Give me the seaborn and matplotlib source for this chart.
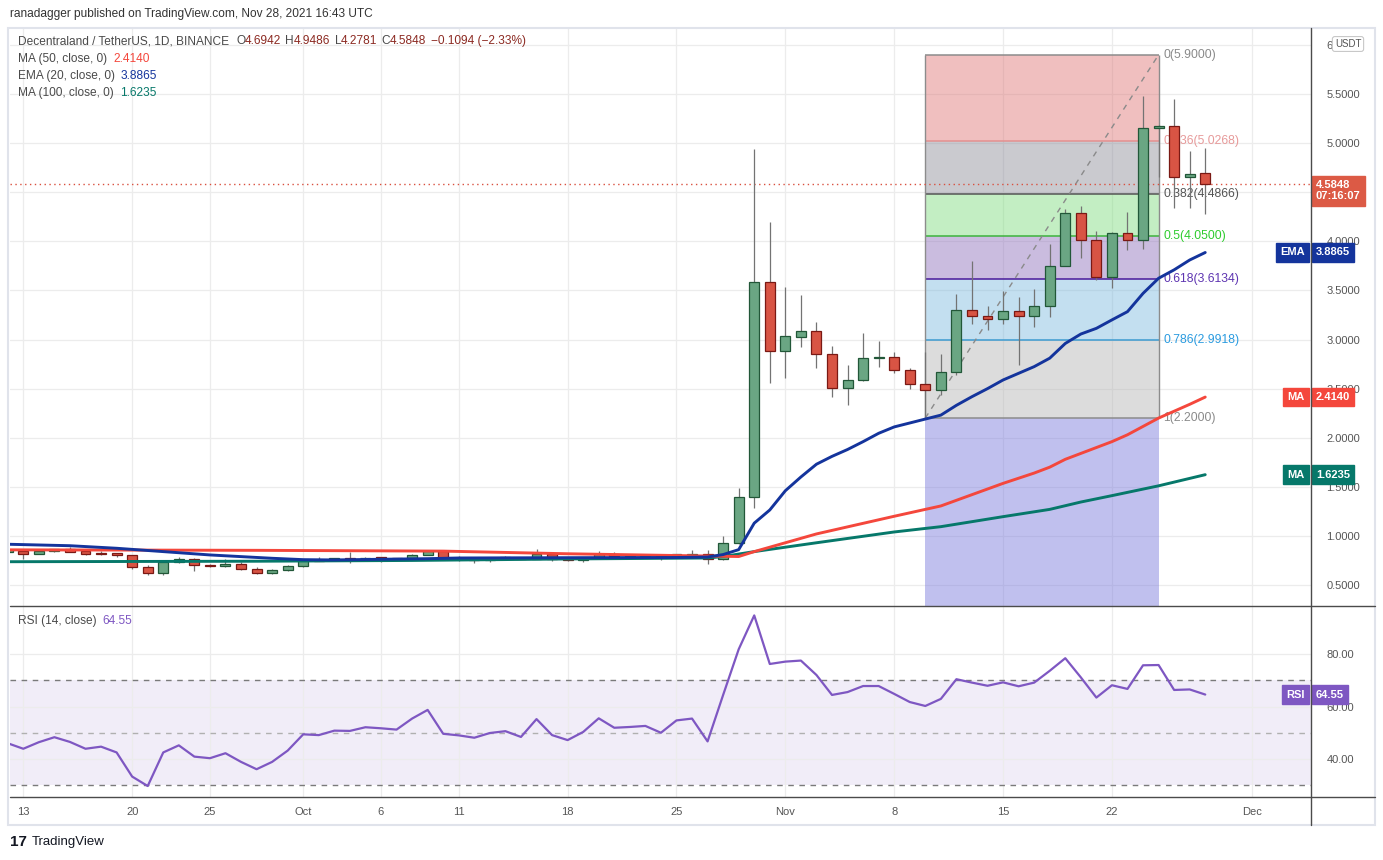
import matplotlib
matplotlib.use("Agg")
import matplotlib.pyplot as plt
import seaborn as sns
from matplotlib import transforms
from matplotlib.patches import Rectangle
from matplotlib.lines import Line2D

# ---------------- data (day 0 = Sep 13) ----------------
days = list(range(-1, 77))
opens = [0.835, 0.846, 0.820, 0.843, 0.867, 0.846, 0.823, 0.826, 0.802, 0.680,
         0.619, 0.730, 0.760, 0.700, 0.690, 0.710, 0.660, 0.620, 0.650, 0.690,
         0.750, 0.750, 0.772, 0.770, 0.782, 0.770, 0.770, 0.810, 0.843, 0.775,
         0.762, 0.751, 0.772, 0.775, 0.765, 0.820, 0.765, 0.752, 0.772, 0.816,
         0.787, 0.787, 0.795, 0.785, 0.808, 0.816, 0.762, 0.925, 1.393, 3.583,
         2.884, 3.023, 3.084, 2.850, 2.503, 2.585, 2.810, 2.820, 2.687, 2.544,
         2.483, 2.667, 3.300, 3.240, 3.210, 3.290, 3.240, 3.340, 3.745, 4.286,
         4.010, 3.640, 4.080, 4.010, 5.150, 5.178, 4.653, 4.6942]
highs = [0.860, 0.853, 0.867, 0.870, 0.887, 0.860, 0.846, 0.830, 0.810, 0.700,
         0.745, 0.785, 0.775, 0.715, 0.762, 0.730, 0.680, 0.660, 0.700, 0.760,
         0.785, 0.775, 0.836, 0.785, 0.790, 0.775, 0.815, 0.850, 0.850, 0.800,
         0.768, 0.790, 0.800, 0.785, 0.870, 0.830, 0.775, 0.775, 0.846, 0.836,
         0.816, 0.800, 0.800, 0.820, 0.857, 0.857, 1.000, 1.485, 4.940, 4.197,
         3.535, 3.454, 3.176, 2.934, 2.740, 3.067, 2.985, 2.873, 2.707, 2.873,
         2.853, 3.460, 3.800, 3.340, 3.490, 3.430, 3.515, 3.973, 4.333, 4.360,
         4.105, 4.100, 4.300, 5.480, 5.190, 5.450, 4.920, 4.9486]
lows = [0.830, 0.768, 0.815, 0.840, 0.835, 0.810, 0.805, 0.790, 0.667, 0.605,
        0.605, 0.720, 0.645, 0.680, 0.680, 0.650, 0.613, 0.615, 0.645, 0.685,
        0.740, 0.745, 0.727, 0.745, 0.730, 0.760, 0.765, 0.805, 0.765, 0.747,
        0.721, 0.734, 0.765, 0.760, 0.760, 0.748, 0.745, 0.734, 0.770, 0.795,
        0.780, 0.780, 0.758, 0.780, 0.800, 0.717, 0.750, 0.920, 1.287, 2.560,
        2.610, 2.920, 2.710, 2.410, 2.333, 2.580, 2.720, 2.662, 2.500, 2.200,
        2.430, 2.640, 3.155, 3.100, 3.155, 2.740, 3.125, 3.227, 3.745, 3.834,
        3.610, 3.520, 3.915, 3.925, 4.660, 4.343, 4.343, 4.2781]
closes = [0.855, 0.818, 0.845, 0.867, 0.840, 0.813, 0.816, 0.802, 0.680, 0.619,
          0.730, 0.760, 0.700, 0.690, 0.710, 0.660, 0.620, 0.650, 0.690, 0.750,
          0.744, 0.770, 0.766, 0.778, 0.768, 0.766, 0.810, 0.843, 0.770, 0.762,
          0.751, 0.772, 0.782, 0.762, 0.820, 0.765, 0.752, 0.775, 0.816, 0.792,
          0.795, 0.795, 0.785, 0.816, 0.816, 0.762, 0.925, 1.393, 3.583, 2.884,
          3.033, 3.084, 2.850, 2.503, 2.585, 2.810, 2.822, 2.687, 2.544, 2.483,
          2.667, 3.300, 3.240, 3.210, 3.290, 3.240, 3.340, 3.745, 4.286, 4.010,
          3.640, 4.080, 4.010, 5.150, 5.178, 4.653, 4.683, 4.5848]

ema20_days = [-1, 3, 6, 9, 12, 16, 18, 20, 23, 26, 28, 35, 42, 44, 45, 46, 47, 48,
              49, 50, 51, 52, 53, 54, 55, 56, 57, 58, 59, 60, 61, 62, 63, 64, 65,
              66, 67, 68, 69, 70, 71, 72, 73, 74, 75, 76]
ema20_vals = [0.915, 0.900, 0.874, 0.840, 0.806, 0.772, 0.758, 0.755, 0.762, 0.768,
              0.775, 0.778, 0.780, 0.785, 0.810, 0.860, 1.130, 1.264, 1.460, 1.600,
              1.730, 1.810, 1.880, 1.960, 2.045, 2.110, 2.150, 2.190, 2.230, 2.330,
              2.418, 2.500, 2.588, 2.656, 2.724, 2.810, 2.960, 3.056, 3.114, 3.200,
              3.284, 3.470, 3.624, 3.710, 3.810, 3.8865]
ma50_days = [-1, 15, 27, 35, 42, 46, 47, 51, 56, 59, 63, 65, 66, 67, 68, 69, 70,
             71, 72, 73, 74, 75, 76]
ma50_vals = [0.858, 0.853, 0.845, 0.818, 0.800, 0.790, 0.840, 1.020, 1.200, 1.305,
             1.535, 1.640, 1.700, 1.780, 1.840, 1.900, 1.960, 2.030, 2.115, 2.200,
             2.270, 2.340, 2.414]
ma100_days = [-1, 15, 25, 35, 44, 45, 46, 47, 51, 56, 59, 63, 66, 68, 70, 73, 76]
ma100_vals = [0.737, 0.742, 0.750, 0.765, 0.775, 0.790, 0.815, 0.840, 0.930, 1.040,
              1.094, 1.196, 1.270, 1.345, 1.410, 1.510, 1.6235]

rsi_vals = [46.0, 43.9, 46.4, 48.3, 46.5, 43.9, 44.7, 42.5, 33.3, 29.7,
            42.5, 45.2, 40.9, 40.3, 42.2, 38.9, 36.1, 38.9, 43.2, 49.4,
            49.1, 50.8, 50.7, 52.1, 51.7, 51.2, 55.4, 58.7, 49.6, 49.0,
            48.1, 49.9, 50.6, 48.4, 55.2, 49.1, 47.2, 50.3, 55.5, 51.9,
            52.2, 52.6, 50.0, 54.7, 55.4, 46.7, 64.4, 81.8, 94.7, 76.2,
            77.1, 77.5, 72.0, 64.4, 65.5, 67.8, 67.8, 64.8, 61.7, 60.2,
            62.9, 70.4, 69.1, 67.9, 69.2, 67.7, 69.1, 73.6, 78.4, 71.1,
            63.4, 68.1, 66.7, 75.7, 75.8, 66.3, 66.5, 64.55]

fib_ratios = ["0", "0.236", "0.382", "0.5", "0.618", "0.786", "1"]
fib_levels = [5.9, 5.0268, 4.4866, 4.05, 3.6134, 2.9918, 2.2]
fib_start, fib_end = 58, 73

tick_days = [0, 7, 12, 18, 23, 28, 35, 42, 49, 56, 63, 70, 79]
tick_labels = ["13", "20", "25", "Oct", "6", "11", "18", "25", "Nov", "8", "15", "22", "Dec"]
price_ticks = [0.5, 1.0, 1.5, 2.0, 2.5, 3.0, 3.5, 4.0, 4.5, 5.0, 5.5, 6.0]
rsi_ticks = [40, 60, 80]

# ---------------- style ----------------
sns.set_theme(style="white")
plt.rcParams["font.family"] = ["Liberation Sans", "DejaVu Sans"]

W, H = 1383, 860
fig = plt.figure(figsize=(W / 100, H / 100), dpi=100)


def fx(px):
    return px / W


def fy(py):
    return 1 - py / H


GRID = "#ececec"
TXT = "#4a4a4a"
GREEN_F, GREEN_E = "#6aa683", "#225738"
RED_F, RED_E = "#d85444", "#7a1914"
EMA_C, MA50_C, MA100_C, RSI_C = "#14349c", "#f4473c", "#06786a", "#7e57c2"

ax = fig.add_axes([fx(10), fy(606), fx(1311) - fx(10), fy(28) - fy(606)])
rx = fig.add_axes([fx(10), fy(797), fx(1311) - fx(10), fy(606) - fy(797)], sharex=ax)

for a in (ax, rx):
    a.set_facecolor("white")
    for s in a.spines.values():
        s.set_visible(False)
    a.set_axisbelow(True)
    a.grid(True, color=GRID, lw=0.9)
    a.yaxis.tick_right()
    a.tick_params(axis="both", length=0, labelsize=8, labelcolor="#555555")
    a.tick_params(axis="y", pad=11)

ax.set_xlim(-0.855, 82.8)
ax.set_ylim(0.286, 6.173)
rx.set_ylim(25.52, 98.29)

ax.set_xticks(tick_days)
rx.set_xticks(tick_days)
rx.set_xticklabels(tick_labels)
ax.tick_params(axis="x", labelbottom=False)
rx.tick_params(axis="x", pad=7)
ax.set_yticks(price_ticks)
# 4.5000 sits fully under the last-price tag in the original, so it is left blank
ax.set_yticklabels(["6" if v == 6.0 else ("" if v == 4.5 else f"{v:.4f}")
                    for v in price_ticks], ha="left")
rx.set_yticks(rsi_ticks)
rx.set_yticklabels([f"{v:.2f}" for v in rsi_ticks], ha="left")

# ---------------- fib retracement ----------------
band_cols = ["#de7373", "#8a8a96", "#7adb7a", "#8b6cba", "#7ab8de", "#b3b3b3"]
line_cols = ["#8c8c8c", "#e39090", "#555555", "#3cb43c", "#4a1a9a", "#3d9bd0", "#8c8c8c"]
label_cols = ["#8a8a8a", "#e79a9a", "#555555", "#2ecc2e", "#5e35b1", "#2a9be0", "#8a8a8a"]
fx_span = [fib_start, fib_end]
for i in range(len(band_cols)):
    ax.fill_between(fx_span, fib_levels[i + 1], fib_levels[i], color=band_cols[i],
                    alpha=0.45, lw=0, zorder=1)
ax.fill_between(fx_span, ax.get_ylim()[0], fib_levels[-1], color="#7575db",
                alpha=0.45, lw=0, zorder=1)
for lvl, lc, r, tc in zip(fib_levels, line_cols, fib_ratios, label_cols):
    ax.hlines(lvl, fib_start, fib_end, color=lc, lw=1.1, zorder=1.5)
    ax.text(fib_end + 0.3, lvl, f"{r}({lvl:.4f})", color=tc, fontsize=8.8,
            va="center", ha="left", zorder=1.6)
ax.vlines([fib_start, fib_end], fib_levels[-1], fib_levels[0], color="#8c8c8c",
          lw=1, zorder=1.5)
ax.plot([fib_start, fib_end], [fib_levels[-1], fib_levels[0]], color="#8a8a8a",
        lw=1, ls=(0, (4, 4)), zorder=1.7)

# ---------------- candles ----------------
ax.vlines(days, lows, highs, color="#737373", lw=0.9, zorder=3)
up = [c >= o for o, c in zip(opens, closes)]
ax.bar(days, [c - o for o, c in zip(opens, closes)], bottom=opens, width=0.64,
       color=[GREEN_F if u else RED_F for u in up],
       edgecolor=[GREEN_E if u else RED_E for u in up], linewidth=0.9, zorder=4)

# ---------------- moving averages ----------------
sns.lineplot(x=ma100_days, y=ma100_vals, ax=ax, color=MA100_C, lw=2.1, zorder=5)
sns.lineplot(x=ma50_days, y=ma50_vals, ax=ax, color=MA50_C, lw=2.1, zorder=5)
sns.lineplot(x=ema20_days, y=ema20_vals, ax=ax, color=EMA_C, lw=2.1, zorder=5)
ax.axhline(closes[-1], color="#d9503f", lw=1, ls=(0, (1, 2.5)), zorder=2)
ax.set_xlabel("")
ax.set_ylabel("")

# ---------------- RSI ----------------
rx.axhspan(30, 70, color=RSI_C, alpha=0.1, lw=0, zorder=0.2)
for lvl, c in ((30, "#7a7a7a"), (50, "#b0b0b0"), (70, "#7a7a7a")):
    rx.axhline(lvl, color=c, lw=1, ls=(0, (4, 4)), zorder=1)
sns.lineplot(x=days, y=rsi_vals, ax=rx, color=RSI_C, lw=1.6, zorder=5)
rx.set_xlabel("")
rx.set_ylabel("")

# ---------------- right-side tags ----------------
bt = transforms.blended_transform_factory(ax.transAxes, ax.transData)
br = transforms.blended_transform_factory(rx.transAxes, rx.transData)


def tag(a, tr, y, value, bg, name=None, dy=0):
    a.annotate(value, xy=(1.0, y), xycoords=tr, xytext=(3.5, dy), textcoords="offset points",
               ha="left", va="center", color="white", fontsize=8, fontweight="bold",
               annotation_clip=False, zorder=10, linespacing=1.15,
               bbox=dict(boxstyle="square,pad=0.38", fc=bg, ec=bg))
    if name:
        a.annotate(name, xy=(1.0, y), xycoords=tr, xytext=(-4.5, dy), textcoords="offset points",
                   ha="right", va="center", color="white", fontsize=8, fontweight="bold",
                   annotation_clip=False, zorder=10,
                   bbox=dict(boxstyle="square,pad=0.38", fc=bg, ec=bg))


tag(ax, bt, closes[-1], f"{closes[-1]:.4f}\n07:16:07", "#dc5a45", dy=-5)
tag(ax, bt, ema20_vals[-1], f"{ema20_vals[-1]:.4f}", EMA_C, "EMA")
tag(ax, bt, ma50_vals[-1], f"{ma50_vals[-1]:.4f}", MA50_C, "MA")
tag(ax, bt, ma100_vals[-1], f"{ma100_vals[-1]:.4f}", MA100_C, "MA")
tag(rx, br, rsi_vals[-1], f"{rsi_vals[-1]:.2f}", RSI_C, "RSI")

fig.text(fx(1348), fy(44), "USDT", ha="center", va="center", fontsize=7, color="#555555",
         bbox=dict(boxstyle="round,pad=0.25", fc="white", ec="#c8c8c8", lw=0.8))

# ---------------- frame lines ----------------
fig.add_artist(Rectangle((fx(8), fy(825)), fx(1375) - fx(8), fy(28) - fy(825),
                         transform=fig.transFigure, fill=False, ec="#e0e3eb", lw=1.5))
for y in (606, 797):
    fig.add_artist(Line2D([fx(10), fx(1375)], [fy(y), fy(y)], color="#4b4b4b", lw=1))
fig.add_artist(Line2D([fx(1311), fx(1311)], [fy(28), fy(825)], color="#4b4b4b", lw=1))

# ---------------- header / legends ----------------
renderer = fig.canvas.get_renderer()


def text_run(x, y, pieces, size=8.6):
    for s, c, gap in pieces:
        t = fig.text(fx(x), fy(y), s, color=c, fontsize=size, va="center", ha="left")
        x += t.get_window_extent(renderer=renderer).width + gap


fig.text(fx(10), fy(14), "ranadagger published on TradingView.com, Nov 28, 2021 16:43 UTC",
         fontsize=8.6, color="#333333", va="center")
ohlc = "#8c2a22"
text_run(18, 41, [("Decentraland / TetherUS, 1D, BINANCE", TXT, 7),
                  ("O", TXT, 0), (f"{opens[-1]:.4f}", ohlc, 4),
                  ("H", TXT, 0), (f"{highs[-1]:.4f}", ohlc, 4),
                  ("L", TXT, 0), (f"{lows[-1]:.4f}", ohlc, 4),
                  ("C", TXT, 0), (f"{closes[-1]:.4f}", ohlc, 4),
                  ("\u22120.1094 (\u22122.33%)", ohlc, 0)])
text_run(18, 59, [("MA (50, close, 0)", TXT, 6), (f"{ma50_vals[-1]:.4f}", MA50_C, 0)])
text_run(18, 76, [("EMA (20, close, 0)", TXT, 6), (f"{ema20_vals[-1]:.4f}", EMA_C, 0)])
text_run(18, 93, [("MA (100, close, 0)", TXT, 6), (f"{ma100_vals[-1]:.4f}", MA100_C, 0)])
text_run(18, 621, [("RSI (14, close)", TXT, 6), (f"{rsi_vals[-1]:.2f}", RSI_C, 0)])

fig.text(fx(10), fy(842), "17", fontsize=11, fontweight="bold", color="#131722", va="center")
fig.text(fx(32), fy(842), "TradingView", fontsize=9.5, color="#131722", va="center")

fig.savefig("out.png", dpi=100)
